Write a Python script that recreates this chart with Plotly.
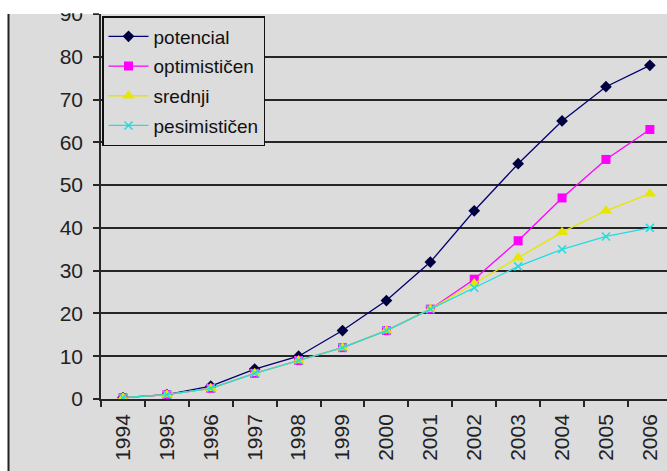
import plotly.graph_objects as go

# Forecast series by year
years = ["1994", "1995", "1996", "1997", "1998", "1999", "2000",
         "2001", "2002", "2003", "2004", "2005", "2006"]
potencial = [0.3, 1, 3, 7, 10, 16, 23, 32, 44, 55, 65, 73, 78]
optimisticen = [0.3, 1, 2.5, 6, 9, 12, 16, 21, 28, 37, 47, 56, 63]
srednji = [0.3, 1, 2.5, 6, 9, 12, 16, 21, 27, 33, 39, 44, 48]
pesimisticen = [0.3, 1, 2.5, 6, 9, 12, 16, 21, 26, 31, 35, 38, 40]
y_ticks = [0, 10, 20, 30, 40, 50, 60, 70, 80, 90]

W, H = 667, 471
L, R, T, B = 30, 0, 14, 72
pw, ph = W - L - R, H - T - B
AXIS_X = 101          # pixel column of the value axis
LABEL_X = 83          # right edge of the value labels
BG = "#dcdcdc"
GRID = "#262626"


def px_x(p):
    return (p - L) / pw


def px_y(p):
    return (H - B - p) / ph


series = [
    ("potencial", potencial, "#000070", dict(symbol="diamond", size=9, color="#000040")),
    ("optimističen", optimisticen, "#ff00ff", dict(symbol="square", size=9, color="#ff00ff")),
    ("srednji", srednji, "#e6e600", dict(symbol="triangle-up", size=11, color="#e6e600")),
    ("pesimističen", pesimisticen, "#22dddd",
     dict(symbol="x-thin-open", size=8, color="#22dddd", line=dict(width=1.5, color="#22dddd"))),
]

fig = go.Figure()
for i, (name, vals, col, mk) in enumerate(series):
    fig.add_trace(go.Scatter(
        x=years, y=vals, name=name, mode="lines+markers",
        line=dict(color=col, width=1.3), marker=mk,
        legendgroup=f"g{i}",
    ))

# empty trace that carries the label-only value axis
fig.add_trace(go.Scatter(x=[], y=[], yaxis="y2", showlegend=False, hoverinfo="skip"))

fig.update_layout(
    width=W, height=H,
    margin=dict(l=L, r=R, t=T, b=B, pad=0),
    paper_bgcolor="white",
    plot_bgcolor=BG,
    font=dict(family="Liberation Sans, Arial, sans-serif", color="#222"),
    showlegend=True,
    legend=dict(
        x=px_x(102), y=px_y(16), xanchor="left", yanchor="top",
        bgcolor=BG, bordercolor="#111", borderwidth=1.5,
        font=dict(size=19, color="#111"),
        traceorder="grouped", tracegroupgap=2,
        itemwidth=40,
    ),
    xaxis=dict(
        type="category", range=[-0.5, 12.39], domain=[px_x(AXIS_X), 1],
        tickson="boundaries", ticks="outside", ticklen=6, tickcolor=GRID, tickwidth=1.5,
        tickangle=-90, tickfont=dict(size=21, color="#222"), ticklabelstandoff=5,
        showgrid=False, showline=True, linecolor=GRID, linewidth=1.5,
        zeroline=False,
    ),
    yaxis=dict(
        range=[0, 90], tickvals=y_ticks, ticks="outside", ticklen=6,
        tickcolor=GRID, tickwidth=1.5, showticklabels=False,
        showgrid=True, gridcolor=GRID, gridwidth=1.5,
        showline=True, linecolor=GRID, linewidth=1.5, zeroline=False,
    ),
    # value labels set a little away from the axis
    yaxis2=dict(
        overlaying="y", anchor="free", position=px_x(LABEL_X), side="left",
        range=[0, 90], tickvals=y_ticks, ticks="", showgrid=False,
        showline=False, zeroline=False, tickfont=dict(size=21, color="#222"),
    ),
    shapes=[
        # chart-area background behind the axes
        dict(type="rect", xref="paper", yref="paper", layer="below",
             x0=px_x(8), x1=1.05, y0=px_y(H + 5), y1=1,
             fillcolor=BG, line=dict(width=0)),
        # white band above the plot area
        dict(type="rect", xref="paper", yref="paper", layer="above",
             x0=px_x(-5), x1=1.05, y0=px_y(13.2), y1=px_y(-5),
             fillcolor="white", line=dict(width=0)),
        # left border of the chart area
        dict(type="line", xref="paper", yref="paper", layer="above",
             x0=px_x(8.5), x1=px_x(8.5), y0=px_y(14), y1=px_y(H + 5),
             line=dict(color="#222", width=2)),
    ],
)

fig.write_html("out.html")
